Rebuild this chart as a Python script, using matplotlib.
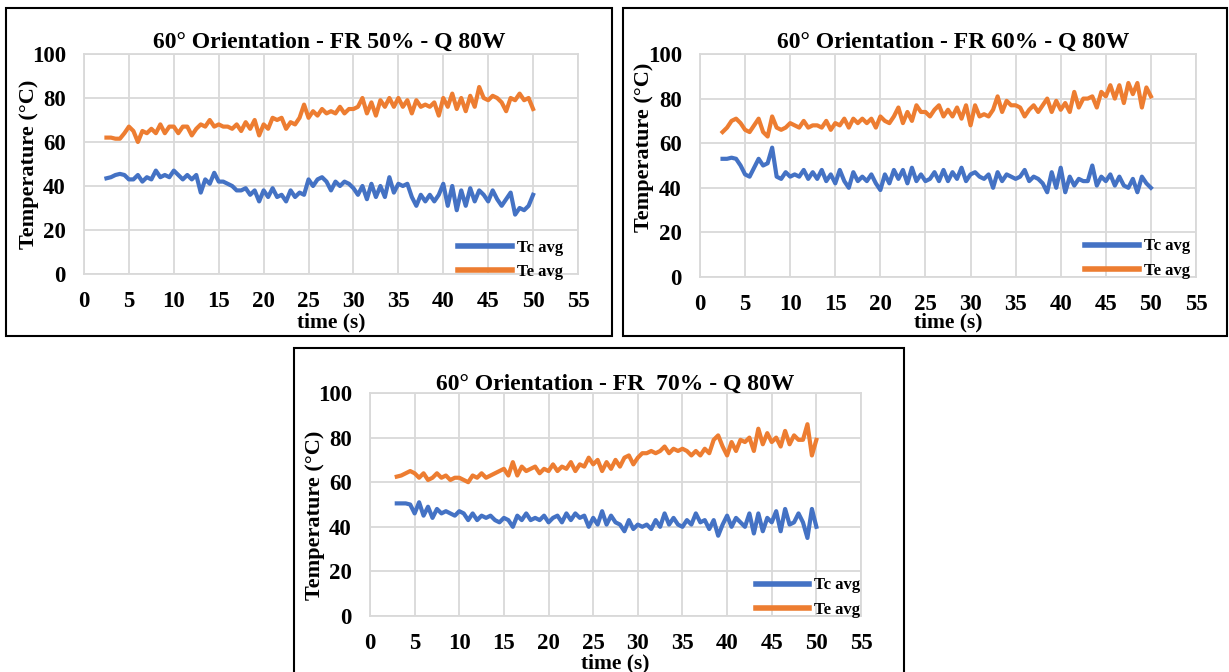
import numpy as np
import matplotlib
matplotlib.use("Agg")
import matplotlib.pyplot as plt
from matplotlib.patches import Rectangle

plt.rcParams['font.family'] = ['Liberation Serif', 'DejaVu Serif']
plt.rcParams['font.weight'] = 'bold'

BLUE = '#4472C4'
ORANGE = '#ED7D31'
GRID = '#D9D9D9'

# sampling: one reading every 0.5 s
t_50 = np.arange(2.5, 50.01, 0.5)
t_60 = np.arange(2.5, 50.01, 0.5)
t_70 = np.arange(3.0, 50.01, 0.5)

# FR 50 %
te_50 = [62, 62, 61.5, 61.5, 64, 67, 65, 60, 65, 64, 66, 64, 68, 64, 67, 67, 64, 67, 67, 63,
         66, 68, 67, 70, 67, 68, 67, 67, 66, 68, 65, 69, 66, 70, 63, 68, 66, 71, 70, 71,
         66, 69, 68, 71, 77, 71, 74, 72, 75, 73, 74, 73, 76, 73, 75, 75, 76, 80, 73, 78,
         72, 79, 76, 80, 76, 80, 76, 79, 73, 79, 76, 77, 76, 78, 72, 80, 76, 82, 75, 80,
         74, 81, 76, 85, 80, 79, 81, 80, 78, 74, 80, 79, 82, 79, 80, 75]
tc_50 = [43.5, 44, 45, 45.5, 45, 43, 43, 45, 42, 44, 43, 47, 44, 45, 44, 47, 45, 43, 45, 43,
         45, 37, 43, 41, 46, 42, 42, 41, 40, 38, 38, 39, 36, 38, 33, 38, 35, 39, 35, 36,
         33, 38, 35, 37, 36, 43, 40, 43, 44, 42, 38, 42, 40, 42, 41, 39, 36, 40, 34, 41,
         35, 40, 35, 44, 37, 41, 40, 41, 35, 31, 36, 33, 36, 33, 36, 41, 31, 40, 29, 38,
         31, 39, 33, 38, 36, 33, 38, 34, 31, 34, 37, 27, 30, 29, 31, 36]

# FR 60 %
te_60 = [65, 67, 70, 71, 69, 66, 65, 68, 71, 65, 63, 72, 67, 66, 67, 69, 68, 67, 70, 67,
         68, 68, 67, 70, 66, 69, 68, 71, 67, 71, 69, 71, 69, 71, 67, 72, 70, 69, 72, 76,
         69, 74, 70, 77, 74, 74, 72, 75, 77, 72, 75, 72, 76, 71, 77, 68, 77, 72, 73, 72,
         75, 81, 74, 79, 77, 77, 76, 72, 75, 77, 74, 77, 80, 74, 79, 75, 78, 74, 83, 76,
         80, 80, 81, 76, 83, 81, 86, 80, 86, 78, 87, 82, 87, 76, 85, 81]
tc_60 = [53, 53, 53.5, 53, 50, 46, 45, 49, 53, 50, 51, 58, 45, 44, 47, 45, 46, 45, 48, 44,
         47, 44, 48, 43, 46, 42, 48, 43, 40, 47, 43, 45, 43, 46, 42, 39, 46, 42, 48, 44,
         48, 42, 49, 43, 46, 43, 44, 47, 43, 48, 43, 47, 44, 49, 43, 46, 47, 45, 44, 46,
         40, 47, 43, 46, 45, 44, 45, 48, 43, 45, 44, 42, 38, 47, 40, 49, 38, 45, 41, 44,
         43, 43, 50, 41, 45, 43, 46, 41, 45, 41, 40, 44, 38, 45, 42, 40]

# FR 70 %
te_70 = [62.5, 63, 64, 65, 64, 62, 64, 61, 62, 64, 62, 63, 61, 62, 62, 61, 60, 63, 62, 64,
         62, 63, 64, 65, 66, 63, 69, 63, 67, 65, 66, 67, 64, 66, 65, 68, 65, 67, 66, 69,
         65, 68, 67, 71, 68, 70, 65, 69, 66, 70, 67, 71, 72, 68, 71, 73, 73, 74, 73, 74,
         76, 73, 75, 74, 75, 74, 72, 74, 72, 75, 73, 79, 81, 76, 72, 78, 74, 79, 78, 80,
         74, 84, 77, 82, 78, 80, 76, 83, 77, 81, 79, 79, 86, 72, 79]
tc_70 = [50.5, 50.5, 50.5, 50, 46, 51, 45, 49, 44, 48, 46, 47, 46, 45, 47, 46, 43, 46, 43, 45,
         44, 45, 43, 42, 44, 43, 40, 45, 43, 46, 43, 44, 43, 45, 42, 44, 45, 42, 46, 43,
         46, 44, 45, 40, 44, 41, 47, 41, 45, 42, 41, 38, 43, 39, 41, 40, 41, 39, 43, 40,
         46, 41, 44, 41, 40, 43, 41, 46, 42, 43, 39, 43, 36, 41, 45, 40, 44, 42, 40, 46,
         37, 46, 38, 44, 42, 47, 38, 48, 41, 42, 46, 42, 35, 48, 40]

titles = ['60° Orientation - FR 50% - Q 80W',
          '60° Orientation - FR 60% - Q 80W',
          '60° Orientation - FR  70% - Q 80W']

W, H = 1229, 672
fig = plt.figure(figsize=(W / 100, H / 100), dpi=100)


def px_axes(x0, x1, ytop, ybot):
    return [x0 / W, 1 - ybot / H, (x1 - x0) / W, (ybot - ytop) / H]


def box(x0, y0, x1, y1):
    fig.patches.append(Rectangle((x0 / W, 1 - y1 / H), (x1 - x0) / W, (y1 - y0) / H,
                                 transform=fig.transFigure, fill=False,
                                 edgecolor='black', lw=1.5))


def panel(rect, t, tc, te, title, title_x, title_pad, ylab_y, xlab_y, leg_anchor):
    ax = fig.add_axes(rect)
    ax.plot(t, tc, color=BLUE, lw=3, label='Tc avg')
    ax.plot(t, te, color=ORANGE, lw=3, label='Te avg')
    ax.set_xlim(0, 55)
    ax.set_ylim(0, 100)
    ax.set_xticks(range(0, 56, 5))
    ax.set_yticks(range(0, 101, 20))
    ax.grid(True, color=GRID, lw=1.3)
    ax.set_axisbelow(True)
    for s in ax.spines.values():
        s.set_color(GRID)
        s.set_linewidth(1.3)
    ax.tick_params(length=0, labelsize=16.5)
    ax.tick_params(axis='x', pad=12)
    ax.tick_params(axis='y', pad=13)
    for lab in ax.get_xticklabels() + ax.get_yticklabels():
        lab.set_fontweight('bold')
    ax.set_title(title, fontsize=17, fontweight='bold', x=title_x, y=1.0, pad=title_pad)
    ax.set_ylabel('Temperature (°C)', fontsize=16, fontweight='bold')
    ax.yaxis.set_label_coords(-0.092, ylab_y)
    ax.set_xlabel('time (s)', fontsize=15.5, fontweight='bold')
    ax.xaxis.set_label_coords(0.5, xlab_y)
    leg = ax.legend(loc='lower right', bbox_to_anchor=leg_anchor, frameon=False,
                    prop={'size': 12, 'weight': 'bold'}, handlelength=3.2,
                    handletextpad=0.3, labelspacing=0.5, borderpad=0)
    for h in leg.get_lines():
        h.set_linewidth(4)
    return ax


box(6, 8, 612, 336)
box(623, 8, 1227, 336)
box(294, 348, 904, 675)

panel(px_axes(84, 578, 54, 274), t_50, tc_50, te_50, titles[0], 0.496, 4.5, 0.5, -0.177,
      (0.986, -0.066))
panel(px_axes(700, 1196, 54, 277), t_60, tc_60, te_60, titles[1], 0.51, 4.5, 0.58, -0.161,
      (1.004, -0.045))
panel(px_axes(370, 861, 393, 616), t_70, tc_70, te_70, titles[2], 0.50, 2.5, 0.453, -0.166,
      (1.016, -0.045))

fig.savefig('out.png', dpi=100)
